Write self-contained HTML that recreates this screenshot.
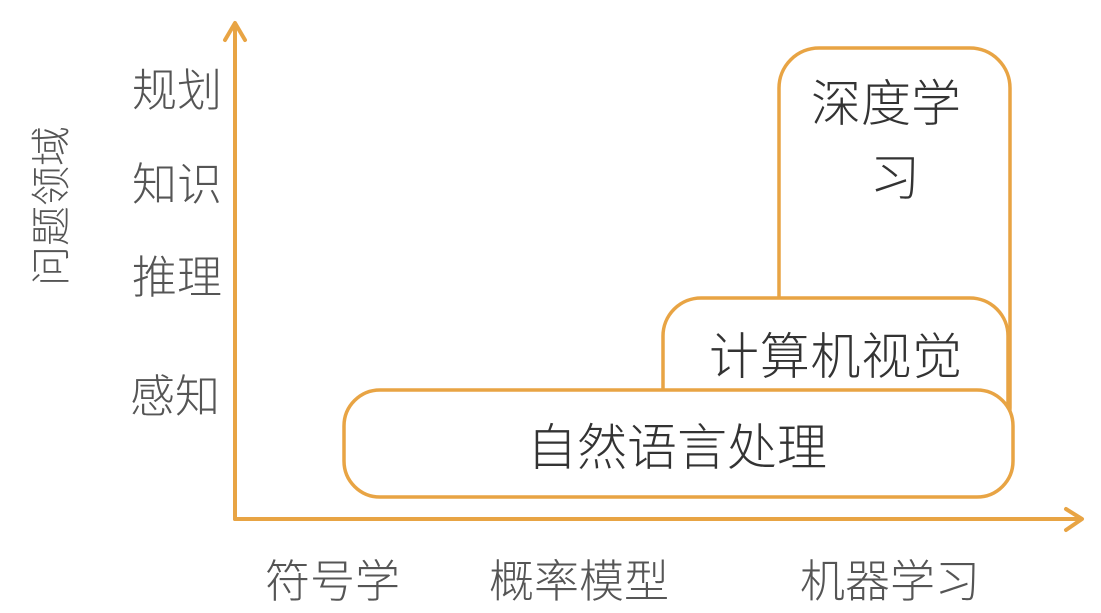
<!DOCTYPE html>
<html><head><meta charset="utf-8"><style>
html,body{margin:0;padding:0;background:#fff;}
svg{display:block;}
text{font-family:"Liberation Sans","Noto Sans CJK SC",sans-serif;font-weight:300;}
</style></head><body>
<svg width="1101" height="613" viewBox="0 0 1101 613" xmlns="http://www.w3.org/2000/svg">
<g fill="none" stroke="#E8A444" stroke-width="4" stroke-linecap="round" stroke-linejoin="round">
  <line x1="235" y1="24" x2="235" y2="519"/>
  <polyline points="225,40 235,23 245,40"/>
  <line x1="235" y1="519" x2="1080" y2="519"/>
  <polyline points="1066,509 1082,519 1066,530"/>
</g>
<rect x="779" y="48" width="231" height="400" rx="40" fill="#fff" stroke="#E8A444" stroke-width="3.5"/>
<rect x="663" y="298" width="345" height="150" rx="38" fill="#fff" stroke="#E8A444" stroke-width="3.5"/>
<rect x="344" y="390" width="669" height="107" rx="36" fill="#fff" stroke="#E8A444" stroke-width="3.5"/>
<g fill="#555" font-size="45">
  <text x="132" y="106">规划</text>
  <text x="132" y="200">知识</text>
  <text x="132" y="293">推理</text>
  <text x="130" y="412">感知</text>
  <text x="265" y="597">符号学</text>
  <text x="489" y="597">概率模型</text>
  <text x="800" y="597">机器学习</text>
</g>
<text transform="translate(65,206) rotate(-90)" text-anchor="middle" font-size="40" fill="#555">问题领域</text>
<g fill="#333" font-size="50">
  <text x="811" y="121">深度学</text>
  <text x="870" y="195">习</text>
  <text x="709" y="374" textLength="253">计算机视觉</text>
  <text x="527" y="465">自然语言处理</text>
</g>
</svg>
</body></html>
